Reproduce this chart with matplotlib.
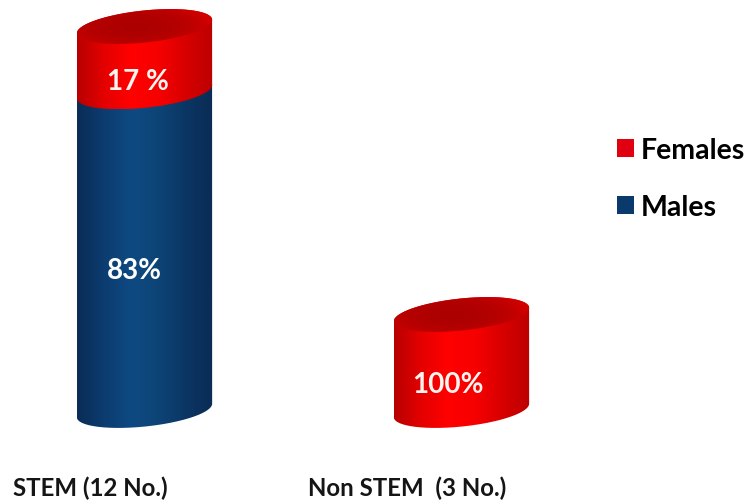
import numpy as np
import matplotlib
matplotlib.use('Agg')
import matplotlib.pyplot as plt
from matplotlib.colors import LinearSegmentedColormap
from matplotlib.patches import Patch, PathPatch
from matplotlib.path import Path

categories = ['STEM (12 No.)', 'Non STEM  (3 No.)']
totals = [12, 3]
male_pct = [83, 0]
female_pct = [17, 100]
pct_labels = [['83%', '17 %'], ['', '100%']]
series = ['Males', 'Females']

plt.rcParams['font.family'] = ['Lato', 'DejaVu Sans']

RED = ['#b80000', '#e40000', '#ff0000', '#f60000', '#d80000', '#bc0000']
NAVY = ['#0a2c56', '#0c3c70', '#0e4a82', '#0d4476', '#0b3664', '#0a2c54']
red_cmap = LinearSegmentedColormap.from_list('red_side', RED)
navy_cmap = LinearSegmentedColormap.from_list('navy_side', NAVY)
cap_cmap = LinearSegmentedColormap.from_list('cap', ['#a80000', '#bc0000', '#d80000'])

# x axis is in pixels, y axis in number of programmes
PX_PER_UNIT = 32.0
BASE_PX = 411.5
centres = [144.5, 461.5]
half_w = 68.0
half_h = 16.0
tilt = np.radians(6)

fig = plt.figure(figsize=(7.53, 5.02), dpi=100)
ax = fig.add_axes([0, 0, 1, 1])
ylim = ((BASE_PX - 502) / PX_PER_UNIT, BASE_PX / PX_PER_UNIT)


def ellipse(cx, y):
    t = np.linspace(0, 2 * np.pi, 361)[:-1]
    ex = half_w * np.cos(t) * np.cos(tilt) - half_h * np.sin(t) * np.sin(tilt)
    ey = half_w * np.cos(t) * np.sin(tilt) + half_h * np.sin(t) * np.cos(tilt)
    return cx + ex, y + ey / PX_PER_UNIT


def lower_arc(cx, y):
    # part of the rim between the leftmost and rightmost points, going under
    ex, ey = ellipse(cx, y)
    left, right = np.argmin(ex), np.argmax(ex)
    idx = np.arange(left, right + (360 if right < left else 0) + 1) % 360
    return ex[idx], ey[idx]


def upper_arc(cx, y):
    ex, ey = ellipse(cx, y)
    left, right = np.argmin(ex), np.argmax(ex)
    idx = np.arange(right, left + (360 if left < right else 0) + 1) % 360
    return ex[idx], ey[idx]


def fill_clipped(verts, data, cmap):
    patch = PathPatch(Path(np.r_[verts, verts[:1]]), fc='none', ec='none')
    ax.add_patch(patch)
    x0, y0 = verts.min(axis=0)
    x1, y1 = verts.max(axis=0)
    im = ax.imshow(data, cmap=cmap, extent=[x0, x1, y0, y1], aspect='auto',
                   vmin=0, vmax=1, interpolation='bilinear', origin='lower')
    im.set_clip_path(patch)


def segment(cx, y0, y1, cmap):
    lx, ly = lower_arc(cx, y0)
    ux, uy = upper_arc(cx, y1)
    verts = np.c_[np.r_[lx, ux], np.r_[ly, uy]]
    grad = np.linspace(0, 1, 256).reshape(1, -1)
    fill_clipped(verts, grad, cmap)


def cap(cx, y):
    ex, ey = ellipse(cx, y)
    gx, gy = np.meshgrid(np.linspace(-1, 1, 128), np.linspace(-1, 1, 64))
    shade = np.clip(0.1 + 0.6 * (gx + 0.15) ** 2 + 0.35 * gy ** 2, 0, 1)
    fill_clipped(np.c_[ex, ey], shade, cap_cmap)


for i, cx in enumerate(centres):
    male_h = totals[i] * male_pct[i] / 100
    female_h = totals[i] * female_pct[i] / 100
    if male_h > 0:
        segment(cx, 0, male_h, navy_cmap)
    segment(cx, male_h, male_h + female_h, red_cmap)
    cap(cx, male_h + female_h)

    if male_h > 0:
        ax.text(cx - 10, male_h * 0.44, pct_labels[i][0], color='white', fontsize=20,
                fontweight='bold', ha='center', va='center')
    ax.text(cx - 7 if male_h > 0 else cx - 13.5, male_h + female_h * (0.16 if male_h > 0 else 0.28),
            pct_labels[i][1], color='#fff4f0', fontsize=20, fontweight='bold',
            ha='center', va='center')

label_x = [90, 407]
for x, name in zip(label_x, categories):
    ax.text(x, (BASE_PX - 488) / PX_PER_UNIT, name, color='#151515', fontsize=17.3,
            fontweight='bold', ha='center', va='center')

handles = [Patch(fc='#e00010', ec='none'), Patch(fc='#0a3a6c', ec='none')]
ax.legend(handles, [series[1], series[0]], loc='upper left',
          bbox_to_anchor=(0.819, 0.725), frameon=False,
          handlelength=0.6, handleheight=0.6, handletextpad=0.25,
          labelspacing=1.08, borderpad=0, borderaxespad=0,
          prop={'size': 20.5, 'weight': 'bold'})

ax.set_xlim(0, 753)
ax.set_ylim(*ylim)
ax.axis('off')

plt.savefig('out.png', dpi=100)
